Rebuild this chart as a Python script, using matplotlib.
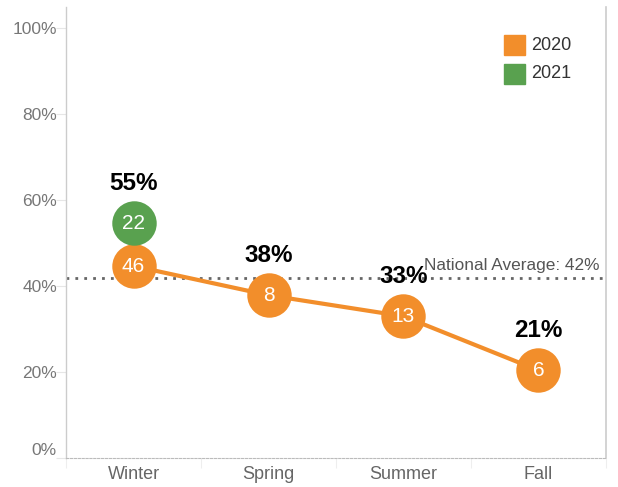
import numpy as np
import matplotlib.pyplot as plt
from matplotlib.patches import Rectangle

plt.rcParams['font.family'] = ['Liberation Sans', 'DejaVu Sans']

# data
seasons = ['Winter', 'Spring', 'Summer', 'Fall']
pct_2020 = [44.7, 37.9, 33.0, 20.4]
count_2020 = [46, 8, 13, 6]
pct_2021 = [54.7]
count_2021 = [22]
top_labels = ['55%', '38%', '33%', '21%']
national_avg = 42

orange = '#F28E2B'
green = '#59A14F'

fig = plt.figure(figsize=(6.18, 4.87), dpi=100)
ax = fig.add_axes([66/618, 29/487, 540/618, 451/487])

x = np.arange(len(seasons))

# reference line
ax.axhline(national_avg, color='#666666', lw=2, ls=(0, (1, 2.2)), zorder=1)
ax.text(3.45, national_avg + 1.0, 'National Average: 42%', ha='right', va='bottom',
        fontsize=12.4, color='#555555')

# 2020 line + circles
ax.plot(x, pct_2020, color=orange, lw=3, zorder=2)
ax.plot(x, pct_2020, 'o', color=orange, ms=32, mec='none', zorder=3)
for xi, yi, c in zip(x, pct_2020, count_2020):
    ax.text(xi, yi, str(c), ha='center', va='center', color='white', fontsize=15, zorder=5)

# 2021 circle
ax.plot(x[:1], pct_2021, 'o', color=green, ms=32, mec='none', zorder=4)
for xi, yi, c in zip(x[:1], pct_2021, count_2021):
    ax.text(xi, yi, str(c), ha='center', va='center', color='white', fontsize=15, zorder=5)

# bold labels above the top circle of each season
tops = [max(pct_2020[0], pct_2021[0])] + pct_2020[1:]
for xi, yi, lab in zip(x, tops, top_labels):
    ax.text(xi, yi + 9.3, lab, ha='center', va='center', fontsize=17.5,
            fontweight='bold', color='black', zorder=5)

ax.set_xlim(-0.5, 3.5)
ax.set_ylim(0, 105)

ax.set_yticks([0, 20, 40, 60, 80, 100])
ax.set_yticklabels(['0%', '20%', '40%', '60%', '80%', '100%'])
ax.tick_params(axis='y', length=7, width=0.8, color='#e6e6e6', labelsize=12.5,
               labelcolor='#777777', pad=-0.5)
ax.get_yticklabels()[0].set_va('bottom')

ax.set_xticks(x)
ax.set_xticklabels(seasons)
ax.tick_params(axis='x', which='major', length=0, labelsize=13, labelcolor='#666666', pad=6)
ax.set_xticks([-0.5, 0.5, 1.5, 2.5, 3.5], minor=True)
ax.tick_params(axis='x', which='minor', length=7, width=0.8, color='#eeeeee')

ax.spines['top'].set_visible(False)
ax.spines['left'].set_color('#cccccc')
ax.spines['right'].set_color('#cccccc')
ax.spines['left'].set_linewidth(1)
ax.spines['right'].set_linewidth(1.2)
ax.spines['bottom'].set_color('#bbbbbb')
ax.spines['bottom'].set_linestyle((0, (2, 1.5)))
ax.spines['bottom'].set_linewidth(0.8)

# legend
fig.patches.append(Rectangle((504/618, 1 - 55/487), 21/618, 20/487, transform=fig.transFigure,
                             color=orange, zorder=10))
fig.patches.append(Rectangle((504/618, 1 - 84/487), 21/618, 20/487, transform=fig.transFigure,
                             color=green, zorder=10))
fig.text(531/618, 1 - 45/487, '2020', va='center', ha='left', fontsize=13, color='#333333')
fig.text(531/618, 1 - 74/487, '2021', va='center', ha='left', fontsize=13, color='#333333')

fig.savefig('out.png', dpi=100)
